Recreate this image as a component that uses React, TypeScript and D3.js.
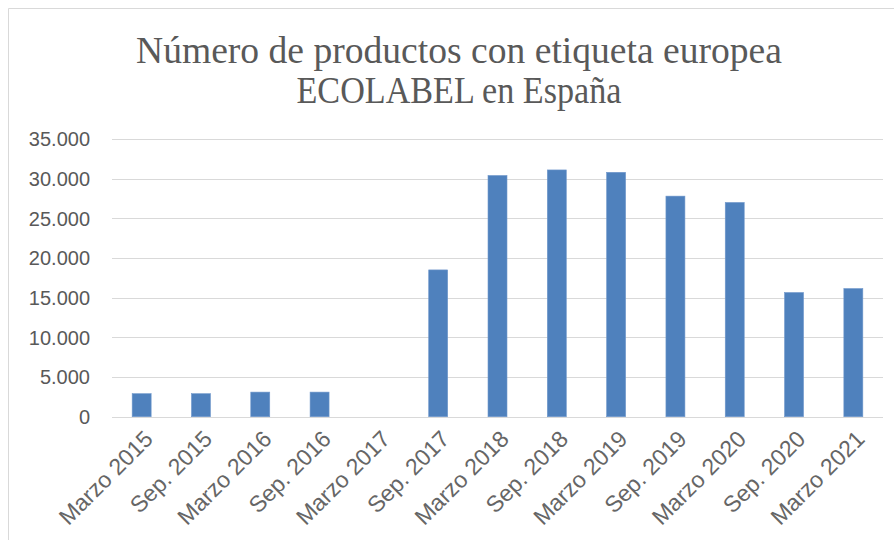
import React, { useEffect, useRef } from 'react';
import * as d3 from 'd3';

// periods on the x axis
const categories = [
  'Marzo 2015', 'Sep. 2015', 'Marzo 2016', 'Sep. 2016', 'Marzo 2017', 'Sep. 2017',
  'Marzo 2018', 'Sep. 2018', 'Marzo 2019', 'Sep. 2019', 'Marzo 2020', 'Sep. 2020', 'Marzo 2021',
];
// number of products (Marzo 2017 has no value)
const productCounts = [2900, 2900, 3100, 3100, 0, 18500, 30400, 31100, 30800, 27800, 27000, 15650, 16150];
const yTicks = [0, 5000, 10000, 15000, 20000, 25000, 30000, 35000];
const titleLines = ['Número de productos con etiqueta europea', 'ECOLABEL en España'];

const App = () => {
  const ref = useRef<SVGSVGElement>(null);

  useEffect(() => {
    const width = 894;
    const height = 540;
    const margin = { top: 139, right: 11, bottom: 123.3, left: 112 };

    const svg = d3.select(ref.current);
    svg.selectAll('*').remove();
    svg.attr('width', width).attr('height', height);

    svg.append('rect')
      .attr('width', width).attr('height', height).attr('fill', '#fff');

    // chart frame (cut off at the right and bottom)
    svg.append('path')
      .attr('d', `M8.5,${height} V8.5 H${width}`)
      .attr('fill', 'none')
      .attr('stroke', '#d9d9d9');

    const x = d3.scaleBand()
      .domain(categories)
      .range([margin.left, width - margin.right])
      .paddingInner(0.68)
      .paddingOuter(0.34);

    const y = d3.scaleLinear()
      .domain([0, 35000])
      .range([height - margin.bottom, margin.top]);

    const fmt = (v: number) => d3.format(',')(v).replace(/,/g, '.');

    // gridlines
    svg.append('g')
      .selectAll('line')
      .data(yTicks)
      .enter()
      .append('line')
      .attr('x1', margin.left)
      .attr('x2', width - margin.right)
      .attr('y1', d => Math.round(y(d)) + 0.5)
      .attr('y2', d => Math.round(y(d)) + 0.5)
      .attr('stroke', '#d9d9d9')
      .attr('stroke-width', 1.2);

    // y labels
    svg.append('g')
      .selectAll('text')
      .data(yTicks)
      .enter()
      .append('text')
      .attr('x', 90)
      .attr('y', d => y(d))
      .attr('dy', '0.36em')
      .attr('text-anchor', 'end')
      .attr('font-family', '"Liberation Sans", Arial, sans-serif')
      .attr('font-size', 20)
      .attr('fill', '#595959')
      .text(d => fmt(d));

    // bars (skip empty periods)
    const barData = categories
      .map((c, i) => ({ cat: c, value: productCounts[i] }))
      .filter(d => d.value > 0);

    svg.append('g')
      .selectAll('rect')
      .data(barData)
      .enter()
      .append('rect')
      .attr('x', d => x(d.cat)!)
      .attr('y', d => y(d.value))
      .attr('width', x.bandwidth())
      .attr('height', d => y(0) - y(d.value))
      .attr('fill', '#4f81bd')
      .attr('stroke', '#6f97cb')
      .attr('stroke-width', 0.6);

    // x labels
    svg.append('g')
      .selectAll('text')
      .data(categories)
      .enter()
      .append('text')
      .attr('transform', d => `translate(${x(d)! + x.bandwidth() / 2 + 1},${y(0) + 12}) rotate(-45)`)
      .attr('dy', '0.72em')
      .attr('text-anchor', 'end')
      .attr('font-family', '"Liberation Sans", Arial, sans-serif')
      .attr('font-size', 23)
      .attr('fill', '#666666')
      .text(d => d);

    // title
    const titleWidths = [646, 325];
    svg.append('g')
      .selectAll('text')
      .data(titleLines)
      .enter()
      .append('text')
      .attr('x', 459)
      .attr('y', (d, i) => 63 + i * 40)
      .attr('text-anchor', 'middle')
      .attr('font-family', '"Liberation Serif", "DejaVu Serif", serif')
      .attr('font-size', 37)
      .attr('textLength', (d, i) => titleWidths[i])
      .attr('lengthAdjust', 'spacingAndGlyphs')
      .attr('fill', '#595959')
      .text(d => d);
  }, []);

  return (
    <div style={{ position: 'absolute', left: 0, top: 0 }}>
      <svg ref={ref} style={{ display: 'block' }}></svg>
    </div>
  );
};

export default App;
